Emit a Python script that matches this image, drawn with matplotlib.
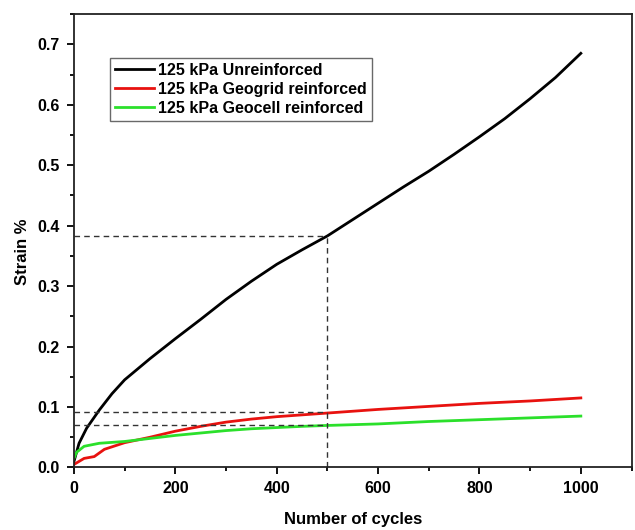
import numpy as np
import matplotlib.pyplot as plt
from matplotlib.ticker import MultipleLocator

plt.rcParams['font.family'] = ['Liberation Sans', 'DejaVu Sans']
plt.rcParams['font.weight'] = 'bold'

# Unreinforced (black)
cyc_u = [0, 5, 10, 25, 50, 75, 100, 150, 200, 250, 300, 350, 400, 450, 500,
         550, 600, 650, 700, 750, 800, 850, 900, 950, 1000]
strain_u = [0.01, 0.025, 0.04, 0.065, 0.095, 0.122, 0.145, 0.18, 0.213, 0.245,
            0.278, 0.308, 0.336, 0.36, 0.383, 0.41, 0.437, 0.464, 0.49, 0.518,
            0.547, 0.577, 0.61, 0.645, 0.685]

# Geogrid reinforced (red)
cyc_r = [0, 10, 20, 40, 60, 100, 150, 200, 250, 300, 350, 400, 450, 500,
         600, 700, 800, 900, 1000]
strain_r = [0.005, 0.01, 0.015, 0.018, 0.03, 0.041, 0.05, 0.06, 0.068, 0.075,
            0.08, 0.084, 0.087, 0.09, 0.096, 0.101, 0.106, 0.11, 0.115]

# Geocell reinforced (green)
cyc_g = [0, 5, 20, 50, 100, 150, 200, 250, 300, 350, 400, 450, 500,
         600, 700, 800, 900, 1000]
strain_g = [0.015, 0.025, 0.035, 0.04, 0.043, 0.048, 0.053, 0.057, 0.061,
            0.064, 0.066, 0.068, 0.0695, 0.072, 0.076, 0.079, 0.082, 0.085]

ref_cycle = 500
ref_levels = [0.383, 0.0916, 0.0695]

fig = plt.figure(figsize=(6.35, 5.30), dpi=100)
ax = fig.add_axes([0.1165, 0.118, 0.878, 0.8555])

ax.plot(cyc_u, strain_u, color='black', lw=2, label='125 kPa Unreinforced')
ax.plot(cyc_r, strain_r, color='#e8120f', lw=2, label='125 kPa Geogrid reinforced')
ax.plot(cyc_g, strain_g, color='#2be02b', lw=2, label='125 kPa Geocell reinforced')

for lv in ref_levels:
    ax.plot([0, ref_cycle], [lv, lv], color='#333333', lw=1, ls=(0, (4, 3)))
ax.plot([ref_cycle, ref_cycle], [0, ref_levels[0]], color='#333333', lw=1, ls=(0, (4, 3)))

ax.set_xlim(0, 1100)
ax.set_ylim(0, 0.75)
ax.xaxis.set_major_locator(MultipleLocator(200))
ax.xaxis.set_minor_locator(MultipleLocator(100))
ax.yaxis.set_minor_locator(MultipleLocator(0.05))
ax.set_yticks(np.arange(0, 0.71, 0.1))
ax.set_yticklabels(['%.1f' % v for v in np.arange(0, 0.71, 0.1)])
ax.tick_params(which='major', direction='out', length=5, width=1.3,
               labelsize=11.5, pad=5)
ax.tick_params(which='minor', direction='out', length=3, width=1.3)
for s in ax.spines.values():
    s.set_linewidth(1.3)
    s.set_color('#222222')

ax.set_xlabel('Number of cycles', fontsize=12, fontweight='bold', labelpad=11)
ax.set_ylabel('Strain %', fontsize=12, fontweight='bold')
ax.yaxis.set_label_coords(-0.078, 0.475)

leg = ax.legend(loc='upper left', bbox_to_anchor=(0.065, 0.903), fontsize=11.5,
                frameon=True, fancybox=False, edgecolor='#444444',
                handlelength=2.45, handletextpad=0.25, labelspacing=0.25,
                borderpad=0.3, borderaxespad=0)
leg.get_frame().set_linewidth(1)

fig.savefig('out.png', dpi=100)
